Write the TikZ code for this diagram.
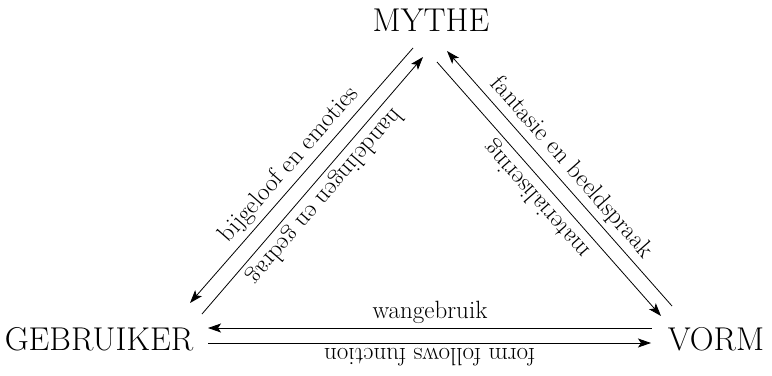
\documentclass[tikz,border=0pt]{standalone}
\usetikzlibrary{arrows.meta}

\begin{document}
\begin{tikzpicture}[x=1bp, y=1bp,
		hoek/.style={inner sep=0pt, font=\fontsize{33bp}{38bp}\selectfont},
		pijl/.style={line width=0.8bp, {Stealth[length=13bp, width=9bp, inset=3bp]}-},
		lbl/.style={midway, sloped, allow upside down, above, inner sep=4.5bp, font=\fontsize{25bp}{29bp}\selectfont}]
			\useasboundingbox (0,0) rectangle (772,375);
			% de drie hoeken
			\node[hoek] (mythe) at (431,355) {MYTHE};
			\node[hoek] (gebruiker) at (99,36) {GEBRUIKER};
			\node[hoek] (vorm) at (716,36) {VORM};
			% eindpunten van de pijlen
			\coordinate (gm1) at (190,72);  \coordinate (mg1) at (413,327);
			\coordinate (gm2) at (202,61);  \coordinate (mg2) at (423,318);
			\coordinate (mv1) at (447,324); \coordinate (vm1) at (672,69);
			\coordinate (mv2) at (437,313); \coordinate (vm2) at (661,59);
			\coordinate (gv1) at (208,47);  \coordinate (vg1) at (652,47);
			\coordinate (gv2) at (208,32);  \coordinate (vg2) at (651,32);
			% mythe - gebruiker
			\draw[pijl] (gm1) -- node[lbl]{bijgeloof en emoties} (mg1);
			\draw[pijl] (mg2) -- node[lbl]{handelingen en gedrag} (gm2);
			% mythe - vorm
			\draw[pijl] (mv1) -- node[lbl]{fantasie en beeldspraak} (vm1);
			\draw[pijl] (vm2) -- node[lbl]{materialisering} (mv2);
			% gebruiker - vorm
			\draw[pijl] (gv1) -- node[lbl]{wangebruik} (vg1);
			\draw[pijl] (vg2) -- node[lbl]{form follows function} (gv2);
		\end{tikzpicture}
\end{document}
